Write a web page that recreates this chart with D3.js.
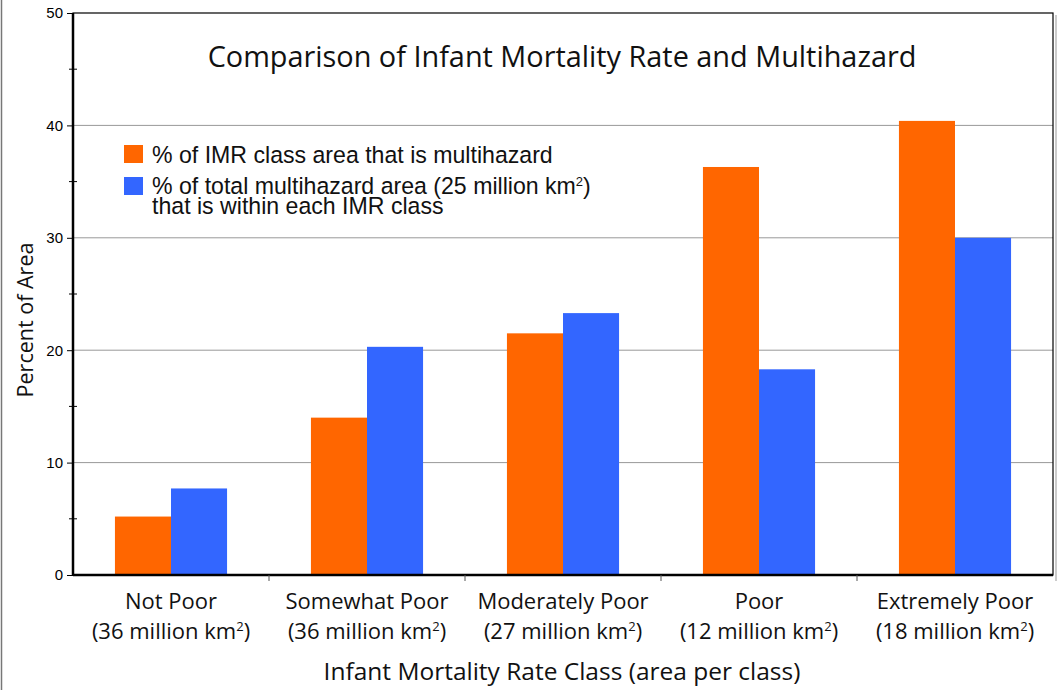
<!DOCTYPE html>
<html><head><meta charset="utf-8">
<script src="https://cdn.jsdelivr.net/npm/d3@7"></script>
<style>body{margin:0;background:#fff}svg{display:block}</style>
</head><body>
<svg id="c" width="1062" height="690"></svg>
<script>
const categories = ["Not Poor","Somewhat Poor","Moderately Poor","Poor","Extremely Poor"];
const areas = ["36","36","27","12","18"];
const seriesNames = ["% of IMR class area that is multihazard","% of total multihazard area (25 million km²)"];
const imrMultihazard = [5.2, 14.0, 21.5, 36.3, 40.4];
const multihazardInClass = [7.7, 20.3, 23.3, 18.3, 30.0];
const yTicks = [0,10,20,30,40,50];
const yMinorTicks = [5,15,25,35,45];
const colors = ["#FF6600","#3366FF"];

const svg = d3.select("#c");
const L=73, R=1053, T=13, B=575;
const x = d3.scaleBand().domain(categories).range([L,R]).paddingInner(0).paddingOuter(0);
const y = d3.scaleLinear().domain([0,50]).range([B,T]);
const barW = x.bandwidth()*0.286;

const fontM = "'Open Sans','Noto Sans',sans-serif";
const fontA = "'Liberation Sans',Arial,sans-serif";

function fit(sel, w){ const n=sel.node(); const cur=n.getComputedTextLength(); const fs=parseFloat(sel.attr("font-size")); sel.attr("font-size", fs*w/cur); }

svg.append("line").attr("x1",1.5).attr("x2",1.5).attr("y1",0).attr("y2",690).attr("stroke","#777").attr("stroke-width",1.5);

svg.append("g").selectAll("line").data(yTicks.filter(d=>d>0&&d<50)).join("line")
  .attr("x1",L).attr("x2",R).attr("y1",d=>y(d)).attr("y2",d=>y(d))
  .attr("stroke","#999").attr("stroke-width",1);

const series = [imrMultihazard, multihazardInClass];
series.forEach((vals,si)=>{
  svg.append("g").selectAll("rect").data(vals).join("rect")
    .attr("x",(d,i)=>x(categories[i])+x.bandwidth()/2 - barW + si*barW)
    .attr("y",d=>y(d)).attr("width",barW).attr("height",d=>B-y(d))
    .attr("fill",colors[si]);
});

svg.append("rect").attr("x",L).attr("y",T).attr("width",R-L).attr("height",B-T)
  .attr("fill","none").attr("stroke","#000").attr("stroke-width",1.2);
svg.append("line").attr("x1",L).attr("x2",L).attr("y1",T).attr("y2",B).attr("stroke","#000").attr("stroke-width",2.5);
svg.append("line").attr("x1",L).attr("x2",R).attr("y1",B).attr("y2",B).attr("stroke","#000").attr("stroke-width",2.5);
svg.append("line").attr("x1",R+3).attr("x2",R+3).attr("y1",T+2).attr("y2",B+6).attr("stroke","#ccc").attr("stroke-width",2);

const yAxis = d3.axisLeft(y).tickValues(yTicks).tickSize(6).tickFormat(d3.format("d"));
const gy = svg.append("g").attr("transform",`translate(${L},0)`).call(yAxis);
gy.select(".domain").remove();
gy.selectAll("text").attr("font-family",fontA).attr("font-size",15).attr("fill","#000").attr("x",-10);
gy.selectAll(".tick line").attr("stroke","#000");
svg.append("g").selectAll("line").data(yMinorTicks).join("line")
  .attr("x1",L-4).attr("x2",L+4).attr("y1",d=>y(d)).attr("y2",d=>y(d)).attr("stroke","#000");

const xAxis = d3.axisBottom(x).tickSize(0).tickFormat("");
const gx = svg.append("g").attr("transform",`translate(0,${B})`).call(xAxis);
gx.select(".domain").remove();
svg.append("g").selectAll("line").data(categories.slice(1)).join("line")
  .attr("x1",d=>x(d)).attr("x2",d=>x(d)).attr("y1",B).attr("y2",B+6).attr("stroke","#555");

categories.forEach((c,i)=>{
  const cx = x(c)+x.bandwidth()/2;
  svg.append("text").attr("x",cx).attr("y",609).attr("text-anchor","middle")
    .attr("font-family",fontM).attr("font-size",22).attr("fill","#111").text(c);
  const t = svg.append("text").attr("x",cx).attr("y",639).attr("text-anchor","middle")
    .attr("font-family",fontM).attr("font-size",22).attr("fill","#111");
  t.append("tspan").text(`(${areas[i]} million km`);
  t.append("tspan").attr("dy",-8).attr("font-size",13).text("2");
  t.append("tspan").attr("dy",8).text(")");
});

const title = svg.append("text").attr("x",562).attr("y",67).attr("text-anchor","middle")
  .attr("font-family",fontM).attr("font-size",26).attr("fill","#111")
  .text("Comparison of Infant Mortality Rate and Multihazard");
fit(title, 709);

const xt = svg.append("text").attr("x",562).attr("y",680).attr("text-anchor","middle")
  .attr("font-family",fontM).attr("font-size",22).attr("fill","#111")
  .text("Infant Mortality Rate Class (area per class)");
fit(xt, 477);
const yt = svg.append("text").attr("transform","translate(33,320) rotate(-90)").attr("text-anchor","middle")
  .attr("font-family",fontM).attr("font-size",20).attr("fill","#111").text("Percent of Area");
fit(yt, 155);

const lg = svg.append("g");
lg.append("rect").attr("x",124).attr("y",145).attr("width",19).attr("height",18).attr("fill",colors[0]);
lg.append("rect").attr("x",124).attr("y",177).attr("width",19).attr("height",18).attr("fill",colors[1]);
const l1 = lg.append("text").attr("x",152).attr("y",163).attr("font-family",fontA).attr("font-size",20).attr("fill","#111").text(seriesNames[0]);
fit(l1, 401);
const lfs = +l1.attr("font-size");
const lt = lg.append("text").attr("x",152).attr("y",194).attr("font-family",fontA).attr("font-size",lfs).attr("fill","#111");
lt.append("tspan").text("% of total multihazard area (25 million km");
lt.append("tspan").attr("dy",-8).attr("font-size",13).text("2");
lt.append("tspan").attr("dy",8).text(")");
lg.append("text").attr("x",152).attr("y",214).attr("font-family",fontA).attr("font-size",lfs).attr("fill","#111").text("that is within each IMR class");
</script>
</body></html>
